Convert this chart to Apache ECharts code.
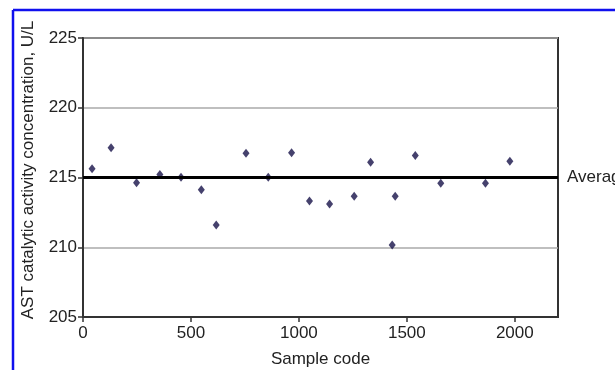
<!DOCTYPE html>
<html>
<head>
<meta charset="utf-8">
<script src="https://cdn.jsdelivr.net/npm/echarts@6/dist/echarts.min.js"></script>
<style>html,body{margin:0;padding:0;background:#fff}#c{width:615px;height:370px}</style>
</head>
<body>
<div id="c"></div>
<script>
var sampleCodes = [42, 130, 248, 356, 454, 548, 617, 755, 858, 966, 1049, 1142, 1256, 1332, 1432, 1446, 1539, 1657, 1864, 1977];
var astValues = [215.63, 217.14, 214.62, 215.22, 215.02, 214.12, 211.6, 216.73, 215.02, 216.78, 213.32, 213.1, 213.65, 216.1, 210.16, 213.65, 216.58, 214.59, 214.59, 216.17];
var averageValue = 215;
var xTicks = [0, 500, 1000, 1500, 2000];
var yTicks = [205, 210, 215, 220, 225];

var points = sampleCodes.map(function (x, i) { return [x, astValues[i]]; });
var font = 'Liberation Sans, Arial, sans-serif';
var chart = echarts.init(document.getElementById('c'), null, {renderer: 'canvas'});
chart.setOption({
  animation: false,
  backgroundColor: '#fff',
  grid: {left: 83, right: 57, top: 38, bottom: 53, show: true, borderColor: '#333', borderWidth: 2, backgroundColor: 'transparent', outerBoundsMode: 'none', containLabel: false},
  xAxis: {
    type: 'value', min: 0, max: 2200, interval: 500,
    name: 'Sample code', nameLocation: 'middle', nameGap: 34,
    nameTextStyle: {fontFamily: font, fontSize: 17, color: '#222'},
    axisLine: {show: true, lineStyle: {color: '#333', width: 2}},
    axisTick: {show: true, length: 5, lineStyle: {color: '#333', width: 1.5}, customValues: xTicks},
    axisLabel: {fontFamily: font, fontSize: 17, color: '#222', margin: 8, customValues: xTicks,
      formatter: function (v) { return String(v); }},
    splitLine: {show: false}
  },
  yAxis: {
    type: 'value', min: 205, max: 225, interval: 5,
    name: 'AST catalytic activity concentration, U/L', nameLocation: 'middle', nameGap: 46,
    nameTextStyle: {fontFamily: font, fontSize: 17, color: '#222', padding: [0, 0, 0, 15]},
    axisLine: {show: true, lineStyle: {color: '#333', width: 2}},
    axisTick: {show: true, length: 5, lineStyle: {color: '#333', width: 1.5}, customValues: yTicks},
    axisLabel: {fontFamily: font, fontSize: 17, color: '#222', margin: 6, customValues: yTicks},
    splitLine: {show: true, lineStyle: {color: '#aaa', width: 1.5}}
  },
  graphic: [
    {type: 'line', shape: {x1: 13, y1: 10, x2: 615, y2: 10}, style: {stroke: '#1010ee', lineWidth: 2.5}, silent: true},
    {type: 'line', shape: {x1: 13, y1: 10, x2: 13, y2: 370}, style: {stroke: '#1010ee', lineWidth: 2.5}, silent: true}
  ],
  series: [{
    type: 'scatter',
    data: points,
    symbol: 'diamond',
    symbolSize: [7, 9],
    itemStyle: {color: '#161248'},
    markLine: {
      silent: true,
      symbol: 'none',
      data: [{yAxis: averageValue}],
      lineStyle: {color: '#000', width: 3, type: 'solid'},
      label: {show: true, position: 'end', formatter: 'Average', distance: 9, fontFamily: font, fontSize: 17, color: '#222'}
    }
  }]
});
</script>
</body>
</html>
